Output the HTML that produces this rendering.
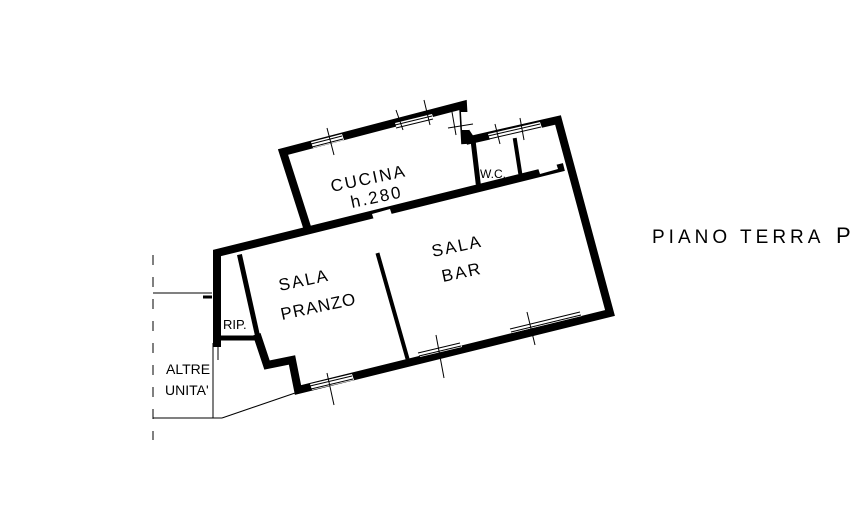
<!DOCTYPE html>
<html><head><style>html,body{margin:0;padding:0;background:#fff}svg{display:block}</style></head>
<body>
<svg width="851" height="514" viewBox="0 0 851 514" xmlns="http://www.w3.org/2000/svg">
<rect width="851" height="514" fill="#fff"/>
<g stroke="#000" fill="none" stroke-linejoin="miter" stroke-linecap="square">
<polyline stroke-width="8" points="307,227 283,152 463,105 465,140"/>
<polyline stroke-width="8" points="470,140 558,120 610,313 298,390 292,360 267,365 258,338"/>
<polyline stroke-width="8" points="217,343 217,253 560,168"/>
<line stroke-width="5" x1="222" y1="338" x2="258" y2="338"/>
<line stroke-width="5" x1="240" y1="257" x2="258" y2="338"/>
<polyline stroke-width="5" points="465,128 473,140 478,182"/>
<line stroke-width="4" x1="515" y1="140" x2="520" y2="172"/>
<line stroke-width="4" x1="378" y1="255" x2="407" y2="357"/>
</g>
<g fill="#fff">
<polygon points="311,142 342,134 344,140 313,148"/>
<polygon points="395,123 432,114 434,120 397,129"/>
<polygon points="488,134 540,122 542,128 490,140"/>
<polygon points="372,214 390,209 392,215 374,220"/>
<polygon points="538,168 556,163 558,169 540,174"/>
<polygon points="510,327 580,310 582,316 512,333"/>
<polygon points="418,351 460,341 462,347 420,357"/>
<polygon points="310,384 352,374 354,380 312,390"/>
<polygon points="461,112 468,112 469,130 462,130"/>
</g>
<g stroke="#000" stroke-width="1" fill="none">
<line x1="311" y1="144" x2="342" y2="136"/><line x1="312" y1="147" x2="343" y2="139"/>
<line x1="395" y1="125" x2="432" y2="116"/><line x1="396" y1="128" x2="433" y2="119"/>
<line x1="488" y1="136" x2="540" y2="124"/><line x1="489" y1="139" x2="541" y2="127"/>
<line x1="510" y1="329" x2="580" y2="312"/><line x1="511" y1="332" x2="581" y2="315"/>
<line x1="418" y1="353" x2="460" y2="343"/><line x1="419" y1="356" x2="461" y2="346"/>
<line x1="310" y1="386" x2="352" y2="376"/><line x1="311" y1="389" x2="353" y2="379"/>
<line x1="327" y1="128" x2="334" y2="155"/>
<line x1="396" y1="110" x2="403" y2="130"/><line x1="424" y1="100" x2="430" y2="125"/>
<line x1="448" y1="128" x2="473" y2="124"/><line x1="452" y1="112" x2="456" y2="135"/>
<line x1="495" y1="124" x2="500" y2="144"/><line x1="520" y1="118" x2="524" y2="140"/>
<line x1="527" y1="312" x2="535" y2="345"/><line x1="436" y1="335" x2="444" y2="378"/>
<line x1="327" y1="373" x2="334" y2="405"/>
<line x1="153" y1="255" x2="153" y2="440" stroke-dasharray="10,12"/>
<line x1="153" y1="293" x2="212" y2="293"/>
<line x1="203" y1="297" x2="212" y2="297" stroke-width="3"/>
<line x1="153" y1="418" x2="222" y2="418"/>
<line x1="222" y1="418" x2="298" y2="392"/>
<line x1="213" y1="343" x2="213" y2="418"/>
<line x1="218" y1="343" x2="218" y2="360"/>
</g>
<g font-family="Liberation Sans, sans-serif" fill="#000" font-size="17" letter-spacing="2">
<text x="332" y="192" transform="rotate(-12 332 192)">CUCINA</text>
<text x="352" y="208" transform="rotate(-12 352 208)">h.280</text>
<text x="433" y="257" transform="rotate(-12 433 257)">SALA</text>
<text x="443" y="282" transform="rotate(-12 443 282)">BAR</text>
<text x="280" y="291" transform="rotate(-12 280 291)">SALA</text>
<text x="282" y="320" transform="rotate(-12 282 320)" letter-spacing="1">PRANZO</text>
<text x="480" y="178" font-size="12" letter-spacing="0">W.C.</text>
<text x="223" y="329" font-size="13" letter-spacing="0">RIP.</text>
<text x="166" y="374" font-size="14" letter-spacing="0">ALTRE</text>
<text x="165" y="395" font-size="14" letter-spacing="0">UNITA'</text>
<text x="652" y="243" font-size="19" letter-spacing="4">PIANO TERRA</text>
<text x="836" y="243" font-size="22">P</text>
</g>
</svg>
</body></html>
